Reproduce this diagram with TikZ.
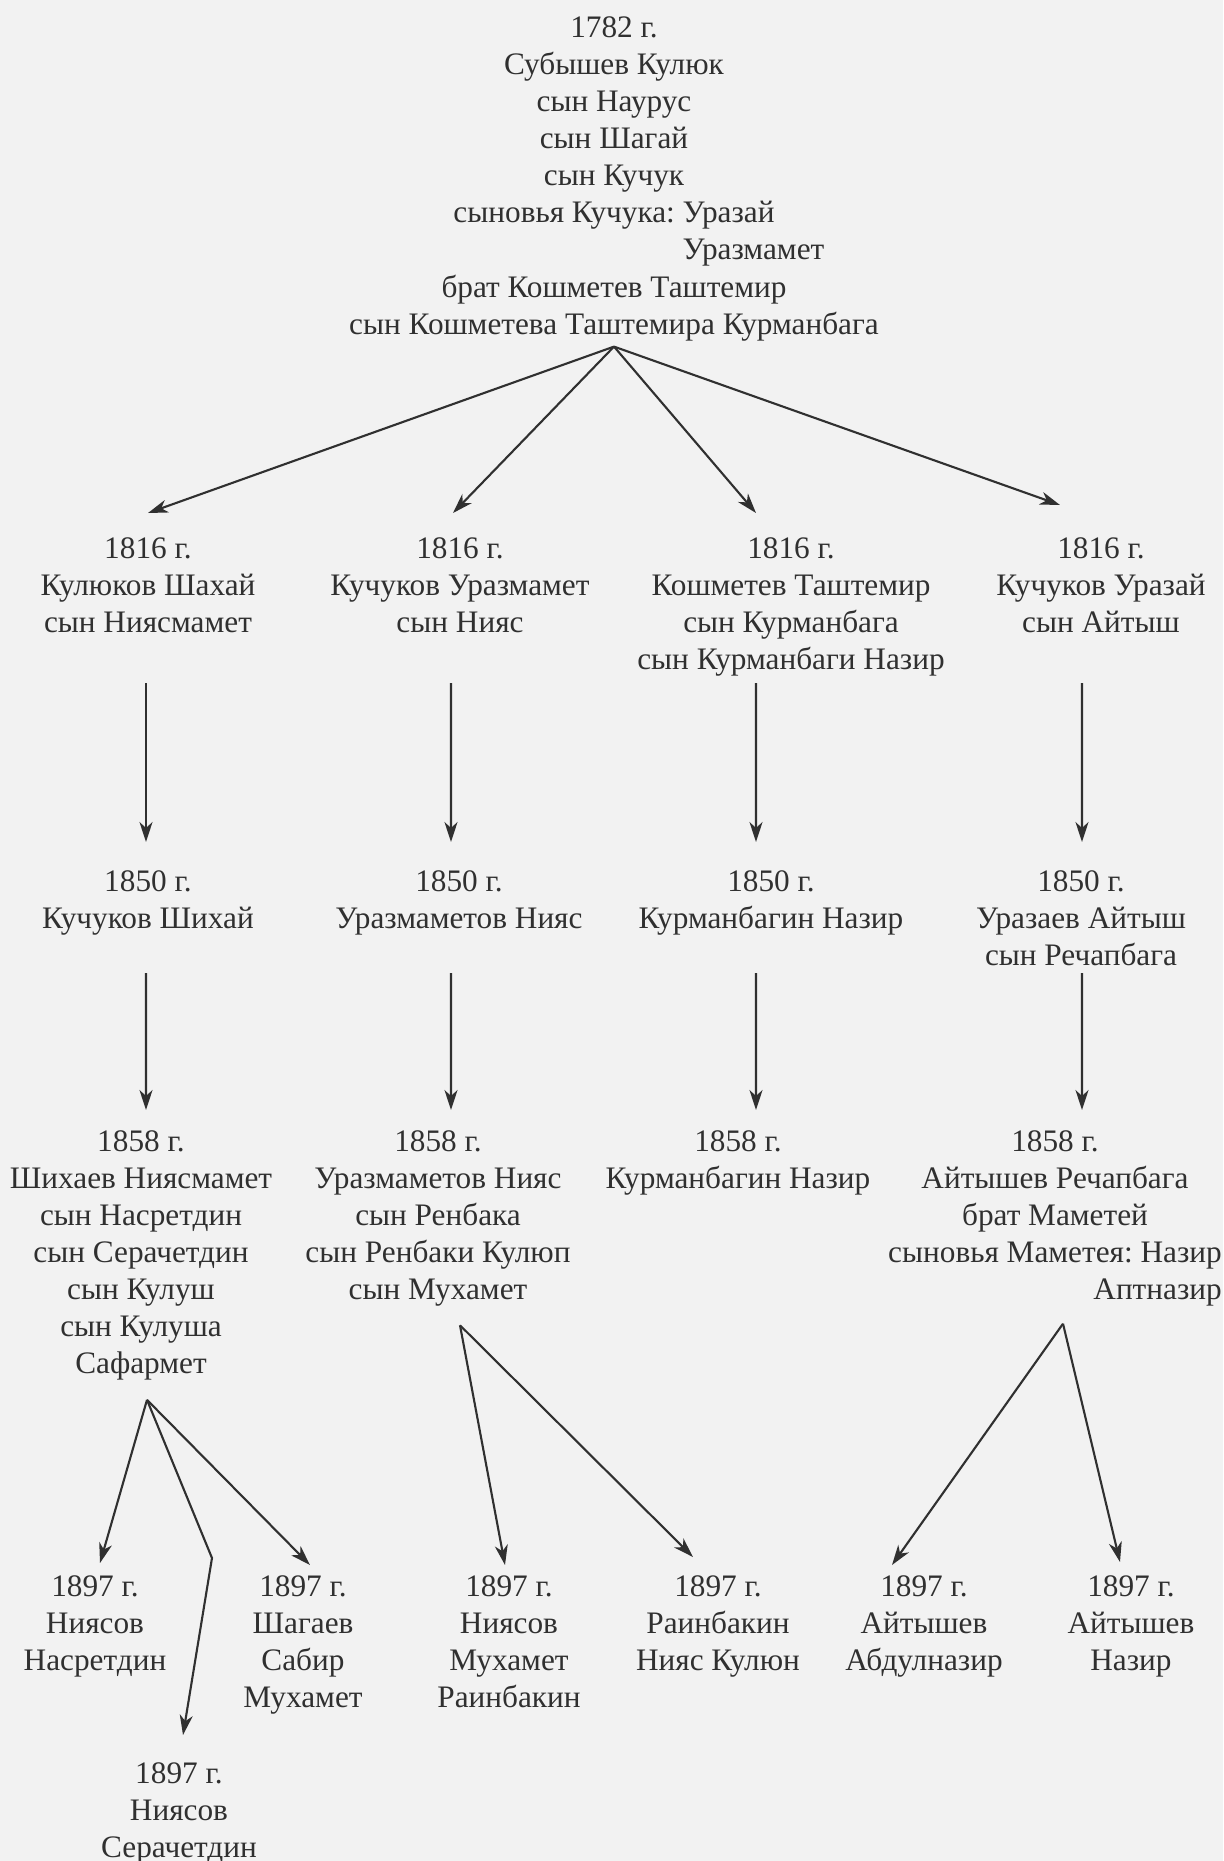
\documentclass[tikz,border=0pt]{standalone}
\usepackage{fontspec}
\setmainfont{Liberation Serif}
\usetikzlibrary{arrows.meta}
\definecolor{paper}{HTML}{F2F2F2}
\definecolor{ink}{HTML}{303030}
\frenchspacing
\begin{document}
\begin{tikzpicture}[>={Stealth[length=.2cm,width=.13cm,inset=.06cm]},
    txt/.style={align=center, anchor=north, inner sep=0pt, text=ink, font=\fontsize{8.9}{10.55}\selectfont},
    arr/.style={->, line width=.6pt, draw=ink}]
\fill[paper](0,0) rectangle (12.23,-18.61);
\useasboundingbox (0,0) rectangle (12.23,-18.61);

\node[txt] (top) at (6.14,-.16) {1782 г.\\ Субышев Кулюк\\ сын Наурус\\ сын Шагай\\ сын Кучук\\ сыновья Кучука: Уразай\\
    \hphantom{сыновья Кучука: }\rlap{Уразмамет}\hphantom{Уразай}\\ брат Кошметев Таштемир\\ сын Кошметева Таштемира Курманбага};

% 1816
\node[txt] (r1a) at (1.48,-5.37) {1816 г.\\ Кулюков Шахай\\ сын Ниясмамет};
\node[txt] (r1b) at (4.60,-5.37) {1816 г.\\ Кучуков Уразмамет\\ сын Нияс};
\node[txt] (r1c) at (7.91,-5.37) {1816 г.\\ Кошметев Таштемир\\ сын Курманбага\\ сын Курманбаги Назир};
\node[txt] (r1d) at (11.01,-5.37) {1816 г.\\ Кучуков Уразай\\ сын Айтыш};

% 1850
\node[txt] (r2a) at (1.48,-8.70) {1850 г.\\ Кучуков Шихай};
\node[txt] (r2b) at (4.59,-8.70) {1850 г.\\ Уразмаметов Нияс};
\node[txt] (r2c) at (7.71,-8.70) {1850 г.\\ Курманбагин Назир};
\node[txt] (r2d) at (10.81,-8.70) {1850 г.\\ Уразаев Айтыш\\ сын Речапбага};

% 1858
\node[txt] (r3a) at (1.41,-11.30) {1858 г.\\ Шихаев Ниясмамет\\ сын Насретдин\\ сын Серачетдин\\ сын Кулуш\\ сын Кулуша\\ Сафармет};
\node[txt] (r3b) at (4.38,-11.30) {1858 г.\\ Уразмаметов Нияс\\ сын Ренбака\\ сын Ренбаки Кулюп\\ сын Мухамет};
\node[txt] (r3c) at (7.38,-11.30) {1858 г.\\ Курманбагин Назир};
\node[txt] (r3d) at (10.55,-11.30) {1858 г.\\ Айтышев Речапбага\\ брат Маметей\\ сыновья Маметея: Назир\\
    \hphantom{сыновья Маметея: Назир}\llap{Аптназир}};

% 1897
\node[txt] (r4a) at (.95,-15.75) {1897 г.\\ Ниясов\\ Насретдин};
\node[txt] (r4b) at (3.03,-15.75) {1897 г.\\ Шагаев\\ Сабир\\ Мухамет};
\node[txt] (r4c) at (5.09,-15.75) {1897 г.\\ Ниясов\\ Мухамет\\ Раинбакин};
\node[txt] (r4d) at (7.18,-15.75) {1897 г.\\ Раинбакин\\ Нияс Кулюн};
\node[txt] (r4e) at (9.24,-15.75) {1897 г.\\ Айтышев\\ Абдулназир};
\node[txt] (r4f) at (11.31,-15.75) {1897 г.\\ Айтышев\\ Назир};
\node[txt] (r4g) at (1.79,-17.62) {1897 г.\\ Ниясов\\ Серачетдин};

% top fan
\draw[arr]([yshift=-.05cm]top.south)--([yshift=.24cm]r1a.north);
\draw[arr]([yshift=-.05cm]top.south)--([xshift=-.07cm,yshift=.24cm]r1b.north);
\draw[arr]([yshift=-.05cm]top.south)--([xshift=-.35cm,yshift=.24cm]r1c.north);
\draw[arr]([yshift=-.05cm]top.south)--([xshift=-.41cm,yshift=.32cm]r1d.north);

% 1816 -> 1850
\draw[arr]([xshift=-.02cm,yshift=-1.46cm]r1a.north)--([xshift=-.02cm,yshift=.28cm]r2a.north);
\draw[arr]([xshift=-.09cm,yshift=-1.46cm]r1b.north)--([xshift=-.08cm,yshift=.28cm]r2b.north);
\draw[arr]([xshift=-.35cm,yshift=-1.46cm]r1c.north)--([xshift=-.15cm,yshift=.28cm]r2c.north);
\draw[arr]([xshift=-.19cm,yshift=-1.46cm]r1d.north)--([xshift=.01cm,yshift=.28cm]r2d.north);

% 1850 -> 1858
\draw[arr]([xshift=-.02cm,yshift=-1.03cm]r2a.north)--([xshift=.05cm,yshift=.20cm]r3a.north);
\draw[arr]([xshift=-.08cm,yshift=-1.03cm]r2b.north)--([xshift=.13cm,yshift=.20cm]r3b.north);
\draw[arr]([xshift=-.15cm,yshift=-1.03cm]r2c.north)--([xshift=.18cm,yshift=.20cm]r3c.north);
\draw[arr]([xshift=.01cm,yshift=-1.03cm]r2d.north)--([xshift=.27cm,yshift=.20cm]r3d.north);

% 1858 -> 1897
\coordinate (bend) at (2.12,-15.58);
\draw[arr]([xshift=.06cm,yshift=-.185cm]r3a.south)--([xshift=.05cm,yshift=.12cm]r4a.north);
\draw[arr]([xshift=.06cm,yshift=-.185cm]r3a.south)--([xshift=.07cm,yshift=.10cm]r4b.north);
\draw[arr]([xshift=.06cm,yshift=-.185cm]r3a.south)--(bend)--([xshift=.04cm,yshift=.27cm]r4g.north);

\draw[arr]([xshift=.22cm,yshift=-.18cm]r3b.south)--([xshift=-.04cm,yshift=.10cm]r4c.north);
\draw[arr]([xshift=.22cm,yshift=-.18cm]r3b.south)--([xshift=-.25cm,yshift=.18cm]r4d.north);

\draw[arr]([xshift=.08cm,yshift=-.165cm]r3d.south)--([xshift=-.32cm,yshift=.10cm]r4e.north);
\draw[arr]([xshift=.08cm,yshift=-.165cm]r3d.south)--([xshift=-.11cm,yshift=.13cm]r4f.north);

\end{tikzpicture}
\end{document}
